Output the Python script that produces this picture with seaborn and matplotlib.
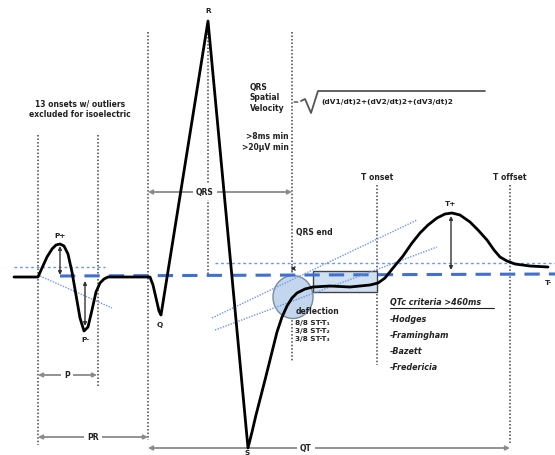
import numpy as np
import pandas as pd
import matplotlib.pyplot as plt
import seaborn as sns
from matplotlib.patches import Ellipse, Rectangle

# -----------------------------
# 1. DATA (pixel units, y grows downward)
# -----------------------------
trace_x = [14, 38, 42, 47, 52, 56, 60, 64, 68, 72, 76, 80, 84, 88, 92, 96, 100,
           104, 108, 150, 153, 156, 159, 161, 208, 248, 252, 256, 265, 272, 277,
           282, 287, 292, 297, 305, 313, 330, 350, 370, 378, 385, 393, 403, 412,
           420, 428, 437, 445, 452, 460, 470, 478, 487, 494, 500, 507, 515, 530, 548]
trace_y = [277, 277, 268, 257, 249, 245, 244, 246, 254, 272, 295, 318, 331, 327,
           310, 292, 283, 279, 277, 277, 285, 298, 311, 315, 21, 448, 432, 415,
           380, 352, 332, 317, 306, 298, 293, 289, 287, 286, 287, 285, 283, 278,
           268, 256, 243, 233, 225, 218, 214, 213, 215, 222, 230, 240, 250, 257,
           261, 264, 266, 267]

wave_labels = ["P+", "P-", "Q", "R", "S", "T+", "T-"]
wave_label_x = [60, 85, 160, 208, 247, 451, 548]
wave_label_y = [236, 340, 325, 11, 453, 204, 283]

# vertical markers: x, top, bottom
marker_x = [38, 98, 148, 208, 292, 377, 510]
marker_top = [135, 135, 32, 30, 32, 185, 185]
marker_bottom = [445, 388, 440, 275, 362, 365, 443]

# interval arrows: label, start, end, y
interval_names = ["P", "PR", "QRS", "QT"]
interval_start = [38, 38, 148, 148]
interval_end = [97, 148, 292, 510]
interval_y = [375, 437, 192, 448]
interval_label_x = [67, 93, 205, 306]

qtc_methods = ["-Hodges", "-Framingham", "-Bazett", "-Fredericia"]
deflection_lines = ["8/8 ST-T\u2081", "3/8 ST-T\u2082", "3/8 ST-T\u2083"]

df = pd.DataFrame({"x": trace_x, "y": trace_y})

# -----------------------------
# 2. FIGURE
# -----------------------------
sns.set_theme(style="white")
plt.rcParams['font.family'] = ['DejaVu Sans']

fig = plt.figure(figsize=(5.55, 4.55), dpi=100)
ax = fig.add_axes([0, 0, 1, 1])

txt = "#222222"
blue = "#3f6fd1"
light_blue = "#6f96e0"

# marker lines
for x, t, b in zip(marker_x, marker_top, marker_bottom):
    ax.plot([x, x], [t, b], color="#444444", lw=1.1, ls=(0, (1, 1.3)), zorder=1)

# regions
ax.add_patch(Ellipse((293, 297), 40, 43, facecolor="#c2d7ee", edgecolor="#7a8a9a",
                     lw=1.0, zorder=2))
ax.add_patch(Rectangle((313, 271), 64, 21, facecolor="#cfe0f2", edgecolor="#444444",
                       lw=1.0, zorder=2))

# isoelectric references
ax.plot([60, 555], [276, 274], color=blue, lw=2.2, ls=(0, (5, 3)), zorder=3)
ax.plot([14, 105], [267, 267], color=light_blue, lw=1.0, ls=(0, (2, 2)), zorder=3)
ax.plot([215, 555], [263, 263], color=light_blue, lw=1.0, ls=(0, (2, 2)), zorder=3)
ax.plot([40, 112], [276, 308], color=light_blue, lw=1.0, ls=(0, (1, 1)), zorder=3)
ax.plot([212, 417], [318, 220], color=light_blue, lw=1.0, ls=(0, (1, 1)), zorder=3)
ax.plot([215, 437], [330, 247], color=light_blue, lw=1.0, ls=(0, (1, 1)), zorder=3)

# ECG trace
sns.lineplot(data=df, x="x", y="y", sort=False, estimator=None, color="black",
             lw=2.0, ax=ax, zorder=5)
ax.set_xlim(0, 555)
ax.set_ylim(455, 0)
ax.axis('off')

ax.plot([293], [268], marker='x', ms=3, color="#333333", mew=1.0, zorder=6)

# amplitude arrows
for x, y0, y1 in [(60, 246, 275), (85, 281, 326), (451, 216, 270)]:
    ax.annotate('', xy=(x, y0), xytext=(x, y1),
                arrowprops=dict(arrowstyle='<|-|>', color="#333333", lw=1.0,
                                mutation_scale=5, shrinkA=0, shrinkB=0), zorder=6)

fs = 5.5

# interval arrows
for name, s, e, y, lx in zip(interval_names, interval_start, interval_end,
                             interval_y, interval_label_x):
    ax.annotate('', xy=(s, y), xytext=(e, y),
                arrowprops=dict(arrowstyle='<|-|>', color="#8a8a8a", lw=1.3,
                                mutation_scale=6, shrinkA=0, shrinkB=0), zorder=4)
    ax.text(lx, y, name, ha='center', va='center', fontsize=fs,
            fontweight='bold', color=txt, zorder=4.5,
            bbox=dict(facecolor='white', edgecolor='none', pad=2.5))

for lab, x, y in zip(wave_labels, wave_label_x, wave_label_y):
    ax.text(x, y, lab, ha='center', va='center', fontsize=5.3, fontweight='bold',
            color=txt, zorder=7)

ax.text(80, 109, "13 onsets w/ outliers\nexcluded for isoelectric", ha='center',
        va='center', fontsize=fs, fontweight='bold', color=txt, linespacing=1.15)
ax.text(377, 177, "T onset", ha='center', va='center', fontsize=fs,
        fontweight='bold', color=txt)
ax.text(510, 178, "T offset", ha='center', va='center', fontsize=fs,
        fontweight='bold', color=txt)
ax.text(296, 233, "QRS end", ha='left', va='center', fontsize=fs,
        fontweight='bold', color=txt)
ax.text(250, 98, "QRS\nSpatial\nVelocity", ha='left', va='center', fontsize=fs,
        fontweight='bold', color=txt, linespacing=1.25)
ax.text(295, 102, "=", ha='center', va='center', fontsize=5, color=txt)
ax.plot([301, 305, 311, 318, 485], [101, 99, 113, 91, 91], color="#555555",
        lw=1.3, zorder=4)
ax.text(321, 102, "(dV1/dt)2+(dV2/dt)2+(dV3/dt)2", ha='left', va='center',
        fontsize=5.3, fontweight='bold', color=txt)
ax.text(289, 142, ">8ms min\n>20\u00b5V min", ha='right', va='center',
        fontsize=fs, fontweight='bold', color=txt, linespacing=1.35)

ax.text(296, 311, "deflection", ha='left', va='center', fontsize=fs,
        fontweight='bold', color=txt, zorder=7)
for i, line in enumerate(deflection_lines):
    ax.text(295, 323 + 8 * i, line, ha='left', va='center', fontsize=5.2,
            fontweight='bold', color=txt, zorder=7)

ax.text(390, 303, "QTc criteria >460ms", ha='left', va='center',
        fontsize=5.8, fontweight='bold', fontstyle='italic', color=txt)
ax.plot([390, 494], [308, 308], color=txt, lw=0.8)
for i, m in enumerate(qtc_methods):
    ax.text(390, 320 + 15.7 * i, m, ha='left', va='center', fontsize=5.8,
            fontweight='bold', fontstyle='italic', color=txt)

fig.savefig("out.png", dpi=100)
